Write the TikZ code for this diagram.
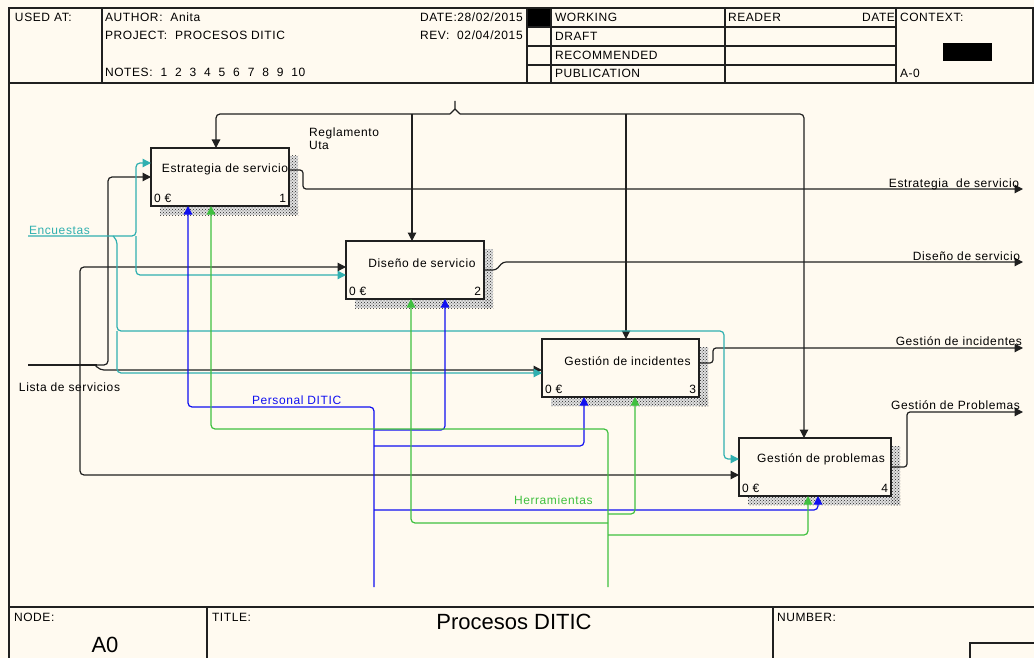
\documentclass[tikz,border=0pt]{standalone}
\usepackage{fontspec}
\setmainfont{Liberation Sans}
\newfontfamily\lsfont[LetterSpace=5]{Liberation Sans}
\usetikzlibrary{arrows.meta,calc,patterns}
\pgfdeclarelayer{background}
\pgfdeclarelayer{shadow}
\pgfsetlayers{background,shadow,main}
\definecolor{cream}{HTML}{FFFAF0}
\definecolor{linec}{HTML}{202020}
\definecolor{blu}{HTML}{1010F0}
\definecolor{grn}{HTML}{40C040}
\definecolor{cya}{HTML}{30B0B0}
\begin{document}
\begin{tikzpicture}[x=1pt,y=-1pt,
  every node/.style={font=\lsfont\fontsize{12}{14}\selectfont, inner sep=0pt, outer sep=0pt},
  frm/.style={line width=1.3pt, draw=linec},
  ln/.style={line width=1.2pt, draw=linec},
  tip/.style={-{Triangle[length=8.5pt,width=8.5pt]}},
  blkarr/.style={ln, tip, rounded corners=4pt},
  cyarr/.style={line width=1.2pt, draw=cya, tip, rounded corners=4pt},
  bluarr/.style={line width=1.2pt, draw=blu, tip, rounded corners=4pt},
  grnarr/.style={line width=1.2pt, draw=grn, tip, rounded corners=4pt},
  boxst/.style={draw=linec, line width=1.3pt, fill=cream, anchor=north west, minimum height=58pt},
  lbl/.style={anchor=base west},
  lblr/.style={anchor=base east},
  big/.style={font=\fontsize{22}{24}\selectfont}
]
\useasboundingbox (0,0) rectangle (1034,658);
\begin{pgfonlayer}{background}
\fill[cream] (0,0) rectangle (1034,658);
\end{pgfonlayer}

% ---------- header ----------
\node[lbl] (usedat) at (15,22) {USED AT:};
\node[lbl] (author) at (105,22) {AUTHOR:\ \ Anita};
\node[lbl] (project) at (105,40) {PROJECT:\ \ PROCESOS DITIC};
\node[lbl] (notes) at (105,77) {NOTES:\ \ 1\ \ 2\ \ 3\ \ 4\ \ 5\ \ 6\ \ 7\ \ 8\ \ 9\ \ 10};
\node[lbl] (date) at (420,22) {DATE:28/02/2015};
\node[lbl] (rev) at (420,40) {REV:\ \ 02/04/2015};
\fill[black] (527,8) rectangle (551,27);
\node[lbl] (working) at (555,22) {WORKING};
\node[lbl] (draft) at (555,41) {DRAFT};
\node[lbl] (recom) at (555,60) {RECOMMENDED};
\node[lbl] (publ) at (555,78) {PUBLICATION};
\node[lbl] (reader) at (728,22) {READER};
\node[lblr] (rdate) at (895,22) {DATE};
\node[lbl] (context) at (900,22) {CONTEXT:};
\fill[black] (943,43) rectangle (992,61);
\node[lbl] (a0ctx) at (900,78) {A-0};
\draw[frm] (9,658) -- (9,8) -- (1033,8) -- (1033,83);
\draw[frm] (9,83) -- (1034,83);
\draw[frm] (102,8) -- (102,83);
\draw[frm] (527,8) -- (527,83);
\draw[frm] (551,8) -- (551,83);
\draw[frm] (725,8) -- (725,83);
\draw[frm] (896,8) -- (896,83);
\draw[frm] (527,27) -- (896,27);
\draw[frm] (527,46) -- (896,46);
\draw[frm] (527,65) -- (896,65);

% ---------- footer ----------
\draw[frm] (9,607) -- (1034,607);
\draw[frm] (207,607) -- (207,658);
\draw[frm] (773,607) -- (773,658);
\draw[frm] (970,658) -- (970,643) -- (1034,643);
\node[lbl] (nodelbl) at (14,621) {NODE:};
\node[lbl] (titlelbl) at (212,621) {TITLE:};
\node[lbl] (numlbl) at (777,621) {NUMBER:};
\node[big] (title) at (514,622) {Procesos DITIC};
\node[big] (nodeA0) at (105,645) {A0};

% ---------- activity boxes ----------
\node[boxst, minimum width=138pt] (b1) at (151,148) {};
\node[boxst, minimum width=138pt] (b2) at (346,241) {};
\node[boxst, minimum width=157pt] (b3) at (542,339) {};
\node[boxst, minimum width=152pt] (b4) at (739,438) {};

\begin{pgfonlayer}{shadow}
\foreach \b in {b1,b2,b3,b4}{
  \fill[black!12] ($(\b.north east)+(0,8)$) rectangle ($(\b.south east)+(9,9)$);
  \fill[black!12] ($(\b.south west)+(9,0)$) rectangle ($(\b.south east)+(9,9)$);
  \fill[pattern=crosshatch dots, pattern color=black!85] ($(\b.north east)+(0,8)$) rectangle ($(\b.south east)+(9,9)$);
  \fill[pattern=crosshatch dots, pattern color=black!85] ($(\b.south west)+(9,0)$) rectangle ($(\b.south east)+(9,9)$);
}
\end{pgfonlayer}

\node (b1name) at ($(b1.north)+(5,21)$) {Estrategia de servicio};
\node (b2name) at ($(b2.north)+(7,22)$) {Diseño de servicio};
\node (b3name) at ($(b3.north)+(7,22)$) {Gestión de incidentes};
\node (b4name) at ($(b4.north)+(6,21)$) {Gestión de problemas};
\foreach \b/\n in {b1/1,b2/2,b3/3,b4/4}{
  \node[anchor=base west] (\b cost) at ($(\b.south west)+(3,-4)$) {0 €};
  \node[anchor=base east] (\b num) at ($(\b.south east)+(-3,-4)$) {\n};
}

% ---------- control: Reglamento Uta ----------
\coordinate (ctl) at (455,101);
\node[lbl] (regl) at (309,137) {Reglamento};
\node[lbl] (uta) at (309,150) {Uta};
\draw[ln] (ctl) -- (455,109) -- (450,114);
\draw[ln] (455,109) -- (460,114);
\draw[blkarr] (450,114) -- (216,114) -- ($(b1.north west)+(65,0)$);
\draw[blkarr] (460,114) -- (804,114) -- ($(b4.north west)+(65,0)$);
\draw[blkarr] (412,114) -- ($(b2.north west)+(66,0)$);
\draw[blkarr] (626,114) -- ($(b3.north west)+(84,0)$);

% ---------- outputs ----------
\coordinate (o1) at (1023,189);
\coordinate (o2) at (1023,262);
\coordinate (o3) at (1023,348);
\coordinate (o4) at (1023,412);
\draw[blkarr, rounded corners=3pt] ($(b1.north east)+(0,22)$) -- (303,170) -- (303,189) -- (o1);
\draw[blkarr, rounded corners=3pt] ($(b2.north east)+(0,29)$) -- (496,270) -- (503,262) -- (o2);
\draw[blkarr, rounded corners=3pt] ($(b3.north east)+(0,24)$) -- (713,363) -- (713,348) -- (o3);
\draw[blkarr, rounded corners=3pt] ($(b4.north east)+(0,29)$) -- (907,467) -- (907,412) -- (o4);
\node[lblr] (o1lbl) at (1019,187) {Estrategia\ \ de servicio};
\node[lblr] (o2lbl) at (1020,260) {Diseño de servicio};
\node[lblr] (o3lbl) at (1022,345) {Gestión de incidentes};
\node[lblr] (o4lbl) at (1020,409) {Gestión de Problemas};

% ---------- input: Lista de servicios ----------
\coordinate (lista) at (28,365);
\node[lbl] (listalbl) at (19,391) {Lista de servicios};
\draw[ln] (lista) -- (97,365);
\draw[blkarr] (80,365) -- (80,267) -- ($(b2.north west)+(0,26)$);
\draw[blkarr] (80,365) -- (80,475) -- ($(b4.north west)+(0,37)$);
\draw[blkarr] (95,365) -- (108,365) -- (108,177) -- ($(b1.north west)+(0,29)$);
\draw[blkarr] (95,365) -- (100,370) -- ($(b3.north west)+(0,31)$);

% ---------- input: Encuestas ----------
\coordinate (enc) at (28,236);
\node[lbl, text=cya] (enclbl) at (29,234) {Encuestas};
\draw[cyarr] (enc) -- (136,236) -- (136,163) -- ($(b1.north west)+(0,15)$);
\draw[cyarr] (136,236) -- (136,275) -- ($(b2.north west)+(0,34)$);
\draw[cyarr] (113,236) -- (117,240) -- (117,331) -- (724,331) -- (724,459) -- ($(b4.north west)+(0,21)$);
\draw[cyarr] (117,331) -- (117,373) -- ($(b3.north west)+(0,34)$);

% ---------- mechanism: Personal DITIC ----------
\coordinate (pers) at (374,587);
\node[lbl, text=blu] (perslbl) at (252,404) {Personal DITIC};
\draw[bluarr] (pers) -- (374,407) -- (188,407) -- ($(b1.south west)+(37,0)$);
\draw[bluarr] (374,430) -- (445,430) -- ($(b2.south west)+(99,0)$);
\draw[bluarr] (374,446) -- (584,446) -- ($(b3.south west)+(42,0)$);
\draw[bluarr] (374,510) -- (818,510) -- ($(b4.south west)+(79,0)$);

% ---------- mechanism: Herramientas ----------
\coordinate (herr) at (608,587);
\node[lbl, text=grn] (herrlbl) at (514,504) {Herramientas};
\draw[grnarr] (herr) -- (608,429) -- (211,429) -- ($(b1.south west)+(60,0)$);
\draw[grnarr] (608,523) -- (411,523) -- ($(b2.south west)+(65,0)$);
\draw[grnarr] (608,514) -- (635,514) -- ($(b3.south west)+(93,0)$);
\draw[grnarr] (608,535) -- (808,535) -- ($(b4.south west)+(69,0)$);
\end{tikzpicture}
\end{document}
